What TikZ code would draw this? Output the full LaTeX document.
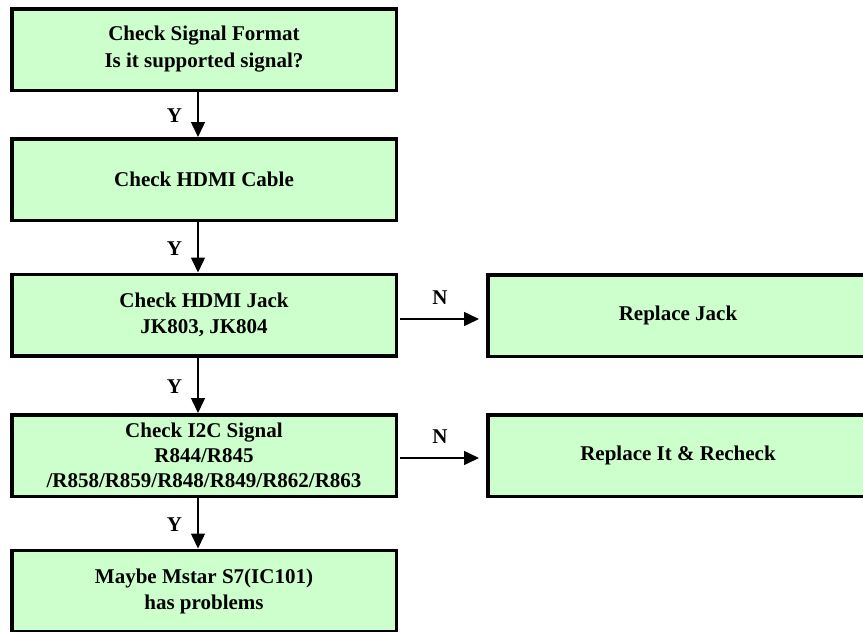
\documentclass[tikz,border=0pt]{standalone}
\usepackage{fontspec}
\setmainfont{Liberation Serif}
\usetikzlibrary{arrows.meta,calc}
\definecolor{boxgreen}{HTML}{CCFFCC}
\begin{document}
\begin{tikzpicture}[x=1pt,y=-1pt,
  flowbox/.style={draw=black,line width=3.5pt,fill=boxgreen,minimum width=384.5pt,minimum height=81.5pt,inner sep=0pt,align=center,font=\fontsize{21}{26}\selectfont\bfseries},
  sidebox/.style={flowbox,minimum width=380.5pt},
  flow/.style={line width=1.5pt,-{Triangle[length=15pt,width=14pt]}},
  lbl/.style={font=\fontsize{21}{25}\selectfont\bfseries,inner sep=0pt}]
\clip (0,0) rectangle (863,632);
\node[flowbox] (b1) at (204,49.5) {Check Signal Format\\[1pt]Is it supported signal?};
\node[flowbox] (b2) at (204,179.5) {Check HDMI Cable};
\node[flowbox] (b3) at (204,315) {Check HDMI Jack\\JK803, JK804};
\node[flowbox,font=\fontsize{21}{25}\selectfont\bfseries] (b4) at (204,455.5) {Check I2C Signal\\R844/R845\\/R858/R859/R848/R849/R862/R863};
\node[flowbox] (b5) at (204,591) {Maybe Mstar S7(IC101)\\has problems};
\node[sidebox] (r1) at (678,315.5) {Replace Jack};
\node[sidebox] (r2) at (678,455.5) {Replace It \& Recheck};
% vertical Y arrows
\foreach \a/\b in {b1/b2,b2/b3,b3/b4,b4/b5}{
  \draw[flow] ([xshift=-6pt]\a.south) -- ([xshift=-6pt]\b.north);
  \node[lbl] at ($([xshift=-6pt]\a.south)!0.5!([xshift=-6pt]\b.north)+(-23.5,1.5)$) {Y};
}
% horizontal N arrows
\coordinate (n1s) at ([yshift=-4pt]b3.east);
\coordinate (n1e) at (n1s -| r1.west);
\draw[flow,shorten <=2pt,shorten >=7pt] (n1s) -- (n1e);
\node[lbl] at ($(n1s)!0.5!(n1e)+(-2,-21.5)$) {N};
\coordinate (n2s) at ([yshift=-2.5pt]b4.east);
\coordinate (n2e) at (n2s -| r2.west);
\draw[flow,shorten <=2pt,shorten >=7pt] (n2s) -- (n2e);
\node[lbl] at ($(n2s)!0.5!(n2e)+(-2,-21.5)$) {N};
\end{tikzpicture}
\end{document}
